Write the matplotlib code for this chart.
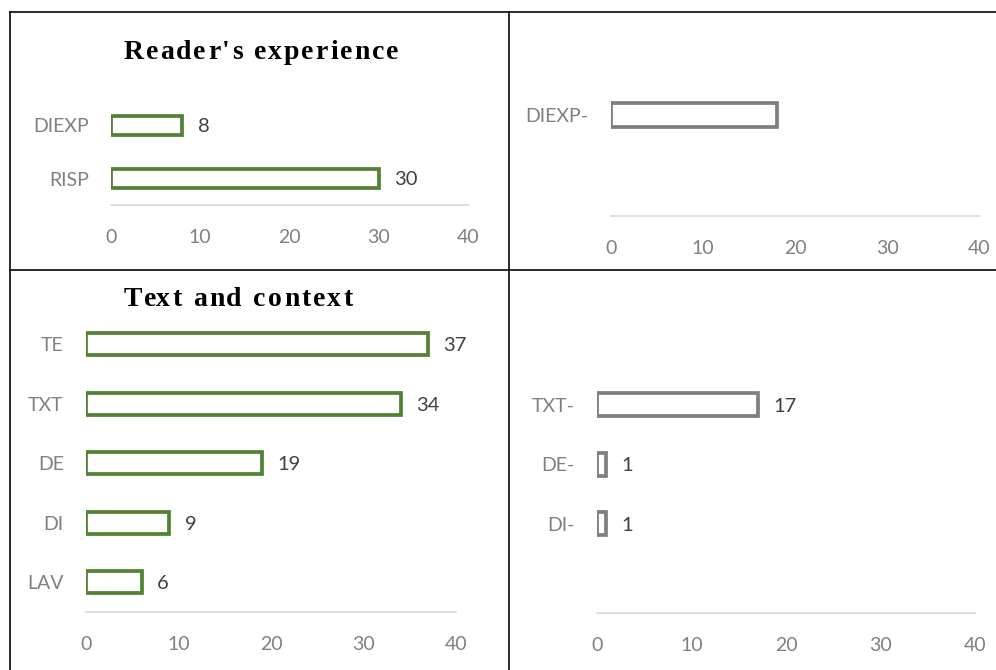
import matplotlib
matplotlib.use("Agg")
import matplotlib.pyplot as plt
from matplotlib.lines import Line2D
import numpy as np

# ---- data ----
reader_cats = ["RISP", "DIEXP"]
reader_vals = [30, 8]
reader_neg_cats = ["DIEXP-"]
reader_neg_vals = [18]
text_cats = ["LAV", "DI", "DE", "TXT", "TE"]
text_vals = [6, 9, 19, 34, 37]
text_neg_cats = ["DI-", "DE-", "TXT-"]
text_neg_vals = [1, 1, 17]
x_ticks = [0, 10, 20, 30, 40]
titles = ["Reader's experience", "Text and context"]

W, H = 996, 670
DPI = 100
fig = plt.figure(figsize=(W / DPI, H / DPI), dpi=DPI)
fig.patch.set_facecolor("white")

GREEN = "#548235"
GRAY = "#7f7f7f"
TICK_C = "#808080"
LABEL_C = "#404040"
FONT = "Lato"


def px_axes(x0, x1, ytop, ybot):
    return fig.add_axes([x0 / W, 1 - ybot / H, (x1 - x0) / W, (ybot - ytop) / H])


def panel(ax, cats, vals, color, positions, ylim, height, show_labels):
    ax.barh(positions, vals, height=height, facecolor="white",
            edgecolor=color, linewidth=2.7)
    ax.set_xlim(0, 40)
    ax.set_ylim(*ylim)
    ax.set_xticks(x_ticks)
    ax.set_xticklabels([str(t) for t in x_ticks])
    ax.set_yticks(positions)
    ax.set_yticklabels(cats)
    for s in ["top", "right", "left"]:
        ax.spines[s].set_visible(False)
    ax.spines["bottom"].set_color("#d9d9d9")
    ax.spines["bottom"].set_linewidth(1.2)
    ax.tick_params(axis="x", length=0, pad=17, labelsize=14, labelcolor=TICK_C)
    ax.tick_params(axis="y", length=0, pad=16, labelsize=14, labelcolor=TICK_C)
    for lab in ax.get_xticklabels() + ax.get_yticklabels():
        lab.set_fontfamily(FONT)
    ax.set_facecolor("none")
    if show_labels:
        for p, v in zip(positions, vals):
            ax.annotate(str(v), xy=(v, p), xytext=(11, -1), textcoords="offset points",
                        ha="left", va="center", fontsize=14.5, color=LABEL_C,
                        fontfamily=FONT)


# Panel 1: Reader's experience
ax1 = px_axes(111, 468, 99, 205)
panel(ax1, reader_cats, reader_vals, GREEN, np.arange(len(reader_cats)),
      (-0.5, len(reader_cats) - 0.5), 0.36, True)

# Panel 2: Reader's experience (negative)
ax2 = px_axes(611, 979, 14, 216)
panel(ax2, reader_neg_cats, reader_neg_vals, GRAY, np.arange(len(reader_neg_cats)),
      (-0.5, 0.5), 0.115, False)

# Panel 3: Text and context
ax3 = px_axes(86, 456, 314.5, 612)
panel(ax3, text_cats, text_vals, GREEN, np.arange(len(text_cats)),
      (-0.5, len(text_cats) - 0.5), 0.37, True)

# Panel 4: Text and context (negative)
ax4 = px_axes(597, 975, 315.5, 613)
panel(ax4, text_neg_cats, text_neg_vals, GRAY, np.arange(len(text_neg_cats)) + 1,
      (-0.5, len(text_cats) - 0.5), 0.38, True)

# Titles with letter spacing
renderer = fig.canvas.get_renderer()
TITLE_KW = dict(fontsize=20, fontweight="bold", fontfamily="Liberation Serif",
                color="black")


def text_width(s):
    if not s:
        return 0.0
    t = fig.text(0, 0, s.replace(" ", "\u00a0"), **TITLE_KW)
    w = t.get_window_extent(renderer=renderer).width
    t.remove()
    return w


def tracked_title(s, cx, cy, tracking):
    total = text_width(s) + tracking * (len(s) - 1)
    x0 = cx - total / 2
    for i, ch in enumerate(s):
        if ch == " ":
            continue
        x = x0 + text_width(s[:i]) + tracking * i
        fig.text(x / W, 1 - cy / H, ch, ha="left", va="baseline", **TITLE_KW)


tracked_title(titles[0], 261, 59, 2.0)
tracked_title(titles[1], 238, 306, 2.2)

# Frame lines
def fline(x0, y0, x1, y1, color="#1a1a1a", lw=1.3):
    fig.add_artist(Line2D([x0 / W, x1 / W], [1 - y0 / H, 1 - y1 / H],
                          transform=fig.transFigure, color=color, lw=lw))

fline(10, 12, 996, 12)
fline(10, 12, 10, 670)
fline(509, 12, 509, 670)
fline(10, 270, 996, 270)

fig.savefig("out.png", dpi=DPI)
